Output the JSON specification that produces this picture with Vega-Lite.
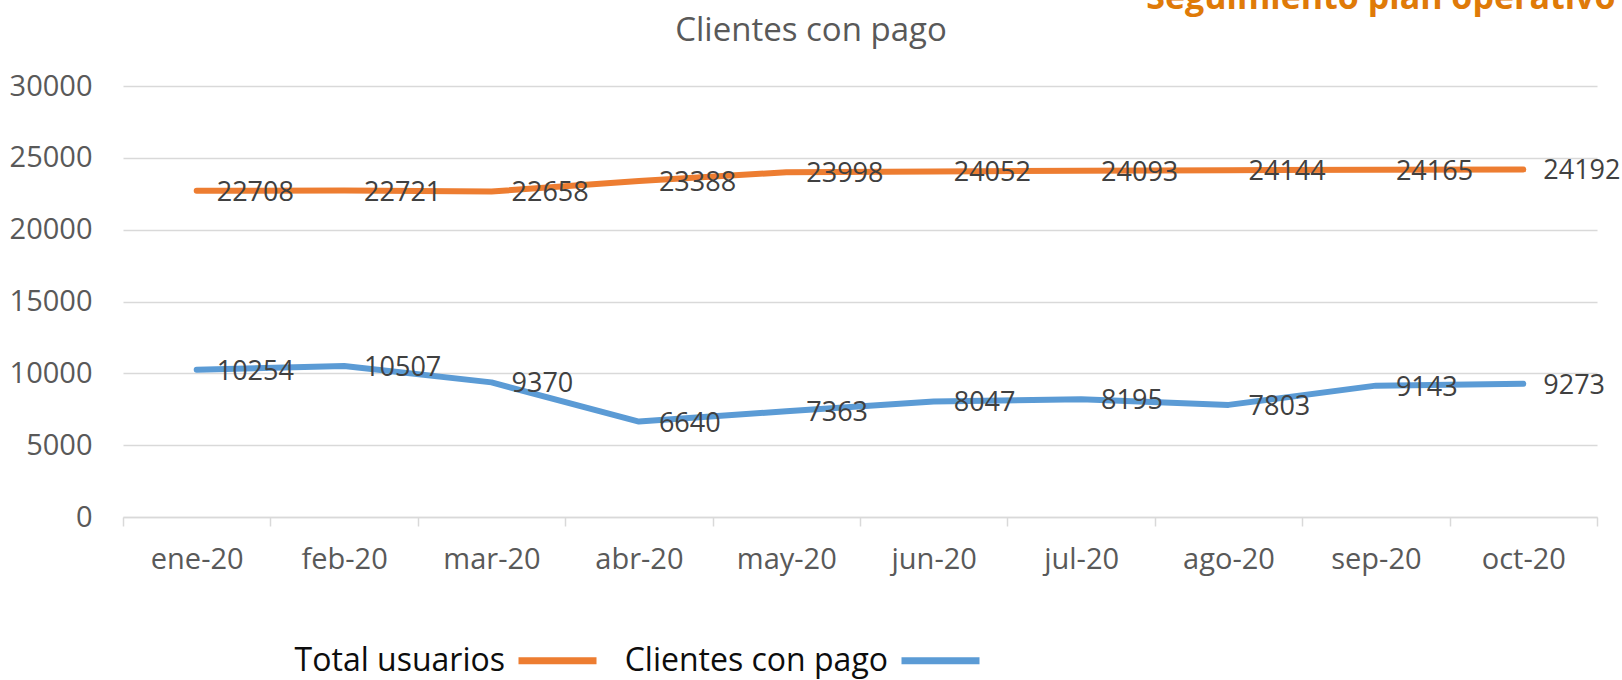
{
  "$schema": "https://vega.github.io/schema/vega-lite/v6.json",
  "width": 1474,
  "height": 431,
  "autosize": {"type": "none"},
  "padding": {"left": 123, "top": 86, "right": 25, "bottom": 163},
  "background": "white",
  "config": {"view": {"stroke": null}, "font": "Open Sans"},
  "title": {
    "text": "Clientes con pago",
    "anchor": "middle",
    "frame": "group",
    "dx": -49,
    "dy": 93,
    "offset": 0,
    "fontSize": 33,
    "fontWeight": "normal",
    "color": "#595959",
    "font": "Open Sans",
    "baseline": "alphabetic"
  },
  "data": {
    "values": [
      {"mes": "ene-20", "serie": "Total usuarios", "valor": 22708},
      {"mes": "feb-20", "serie": "Total usuarios", "valor": 22721},
      {"mes": "mar-20", "serie": "Total usuarios", "valor": 22658},
      {"mes": "abr-20", "serie": "Total usuarios", "valor": 23388},
      {"mes": "may-20", "serie": "Total usuarios", "valor": 23998},
      {"mes": "jun-20", "serie": "Total usuarios", "valor": 24052},
      {"mes": "jul-20", "serie": "Total usuarios", "valor": 24093},
      {"mes": "ago-20", "serie": "Total usuarios", "valor": 24144},
      {"mes": "sep-20", "serie": "Total usuarios", "valor": 24165},
      {"mes": "oct-20", "serie": "Total usuarios", "valor": 24192},
      {"mes": "ene-20", "serie": "Clientes con pago", "valor": 10254},
      {"mes": "feb-20", "serie": "Clientes con pago", "valor": 10507},
      {"mes": "mar-20", "serie": "Clientes con pago", "valor": 9370},
      {"mes": "abr-20", "serie": "Clientes con pago", "valor": 6640},
      {"mes": "may-20", "serie": "Clientes con pago", "valor": 7363},
      {"mes": "jun-20", "serie": "Clientes con pago", "valor": 8047},
      {"mes": "jul-20", "serie": "Clientes con pago", "valor": 8195},
      {"mes": "ago-20", "serie": "Clientes con pago", "valor": 7803},
      {"mes": "sep-20", "serie": "Clientes con pago", "valor": 9143},
      {"mes": "oct-20", "serie": "Clientes con pago", "valor": 9273}
    ]
  },
  "encoding": {
    "x": {
      "field": "mes",
      "type": "nominal",
      "sort": ["ene-20", "feb-20", "mar-20", "abr-20", "may-20", "jun-20", "jul-20", "ago-20", "sep-20", "oct-20"],
      "bandPosition": 0.5,
      "scale": {"type": "band", "paddingInner": 0, "paddingOuter": 0},
      "axis": {
        "title": null,
        "grid": false,
        "labelAngle": 0,
        "tickBand": "extent",
        "domainColor": "#D9D9D9",
        "domainWidth": 1.5,
        "tickColor": "#D9D9D9",
        "tickWidth": 1.5,
        "tickSize": 9,
        "labelFontSize": 29,
        "labelColor": "#595959",
        "labelFont": "Open Sans",
        "labelPadding": 19
      }
    },
    "y": {
      "field": "valor",
      "type": "quantitative",
      "scale": {"domain": [0, 30000], "nice": false},
      "axis": {
        "values": [0, 5000, 10000, 15000, 20000, 25000, 30000],
        "format": "d",
        "domain": false,
        "ticks": false,
        "tickSize": 0,
        "gridColor": "#D9D9D9",
        "gridWidth": 1.5,
        "labelFontSize": 29,
        "labelColor": "#595959",
        "labelFont": "Open Sans",
        "labelPadding": 31,
        "title": "Seguimiento plan operativo",
        "titleAngle": 0,
        "titleAlign": "right",
        "titleBaseline": "alphabetic",
        "titleX": 1492,
        "titleY": -78,
        "titleFontSize": 34,
        "titleFontWeight": "bold",
        "titleColor": "#DF7A08",
        "titleFont": "Open Sans"
      }
    }
  },
  "layer": [
    {
      "mark": {"type": "line", "strokeWidth": 6, "strokeCap": "round", "strokeJoin": "round"},
      "encoding": {
        "color": {
          "field": "serie",
          "type": "nominal",
          "scale": {"domain": ["Total usuarios", "Clientes con pago"], "range": ["#ED7D31", "#5B9BD5"]},
          "legend": {
            "orient": "none",
            "legendX": 392,
            "legendY": 532,
            "direction": "horizontal",
            "title": null,
            "padding": 0,
            "symbolType": "stroke",
            "symbolSize": 6084,
            "symbolStrokeWidth": 7,
            "labelFontSize": 32,
            "labelColor": "#0D0D0D",
            "labelFont": "Open Sans",
            "labelAlign": "right",
            "labelBaseline": "middle",
            "labelOffset": -95,
            "labelLimit": 0,
            "columnPadding": 13
          }
        }
      }
    },
    {
      "mark": {"type": "text", "align": "left", "baseline": "middle", "dx": 20, "dy": 2, "fontSize": 27, "color": "#404040", "font": "Open Sans"},
      "encoding": {
        "text": {"field": "valor", "type": "quantitative", "format": "d"},
        "detail": {"field": "serie", "type": "nominal"}
      }
    }
  ]
}
